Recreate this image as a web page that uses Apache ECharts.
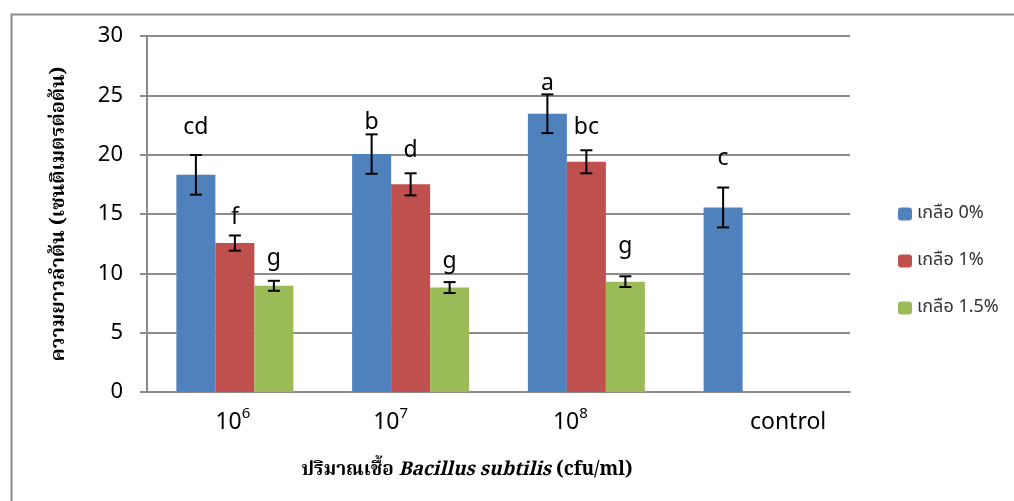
<!DOCTYPE html>
<html>
<head>
<meta charset="utf-8">
<script src="https://cdn.jsdelivr.net/npm/echarts@6/dist/echarts.min.js"></script>
<style>
  html, body { margin: 0; padding: 0; background: #fff; }
  #chart { width: 1014px; height: 501px; }
</style>
</head>
<body>
<div id="chart"></div>
<script>
// Stem length (cm per plant) by Bacillus subtilis dose and salt level
const categories = ['10^6', '10^7', '10^8', 'control'];
const seriesNames = ['เกลือ 0%', 'เกลือ 1%', 'เกลือ 1.5%'];
const salt0 = [18.3, 20.05, 23.45, 15.55];
const salt1 = [12.55, 17.5, 19.4, null];
const salt15 = [8.95, 8.8, 9.3, null];
const err0 = [1.67, 1.66, 1.63, 1.68];
const err1 = [0.64, 0.93, 0.97, null];
const err15 = [0.42, 0.46, 0.45, null];
const letters0 = ['cd', 'b', 'a', 'c'];
const letters1 = ['f', 'd', 'bc', null];
const letters15 = ['g', 'g', 'g', null];
const yTicks = [0, 5, 10, 15, 20, 25, 30];

const values = [salt0, salt1, salt15];
const errors = [err0, err1, err15];
const letters = [letters0, letters1, letters15];
const colors = ['#4F81BD', '#C0504D', '#9BBB59'];

// drawing constants
const BAR_W = 39;
const SANS = '"Noto Sans", "Open Sans", sans-serif';
const THAI_SANS = '"Noto Sans Thai", "Noto Sans Thai UI", Tahoma, Garuda, Loma, "Noto Sans", sans-serif';
const THAI_SERIF = '"Noto Serif Thai", "Times New Roman", "Liberation Serif", "DejaVu Serif", serif';
// pixel lift of each significance letter above its error bar: [series][category]
const letterLift = [[16, 0, -1, 18], [7, 11, 11, null], [11, 9, 18, null]];
// horizontal nudge of category labels in pixels
const labelShift = [-2, -20, -16, 26];

const chart = echarts.init(document.getElementById('chart'), null, { renderer: 'canvas' });

const barSeries = seriesNames.map((name, s) => ({
  name: name,
  type: 'bar',
  barWidth: BAR_W,
  barGap: '0%',
  itemStyle: { color: colors[s] },
  data: values[s],
  z: 2
}));

// error bars + letters, one custom series per salt level
const errSeries = seriesNames.map((name, s) => ({
  type: 'custom',
  name: name + '-err',
  silent: true,
  z: 5,
  data: categories.map((c, i) => [i, values[s][i], errors[s][i]]),
  renderItem: function (params, api) {
    const i = api.value(0);
    const v = values[s][i];
    const e = errors[s][i];
    if (v == null) return null;
    const cx = api.coord([i, v])[0] + (s - 1) * BAR_W;
    const yTop = api.coord([i, v + e])[1];
    const yBot = api.coord([i, v - e])[1];
    const cap = 6;
    const ls = { stroke: '#000', lineWidth: 2 };
    const children = [
      { type: 'line', shape: { x1: cx, y1: yTop, x2: cx, y2: yBot }, style: ls },
      { type: 'line', shape: { x1: cx - cap, y1: yTop, x2: cx + cap, y2: yTop }, style: ls },
      { type: 'line', shape: { x1: cx - cap, y1: yBot, x2: cx + cap, y2: yBot }, style: ls }
    ];
    const t = letters[s][i];
    if (t) {
      children.push({
        type: 'text',
        style: {
          text: t, x: cx, y: yTop - letterLift[s][i],
          align: 'center', verticalAlign: 'bottom',
          font: '23px ' + SANS, fill: '#000'
        }
      });
    }
    return { type: 'group', children: children };
  }
}));

// category labels: "10^n" becomes 10 with a raised exponent
function catLabel(value, idx) {
  if (value.indexOf('^') > 0) {
    const parts = value.split('^');
    return '{b' + idx + '|' + parts[0] + '}{s' + idx + '|' + parts[1] + '}';
  }
  return '{c' + idx + '|' + value + '}';
}
const rich = {};
labelShift.forEach((shift, idx) => {
  const padL = shift > 0 ? shift * 2 : 0;
  const padR = shift < 0 ? -shift * 2 : 0;
  rich['b' + idx] = { fontSize: 23, fontFamily: SANS, color: '#000', verticalAlign: 'bottom', padding: [0, 0, 0, padL] };
  rich['s' + idx] = { fontSize: 15, fontFamily: SANS, color: '#000', verticalAlign: 'top', padding: [0, padR, 13, 0] };
  rich['c' + idx] = { fontSize: 23, fontFamily: SANS, color: '#000', verticalAlign: 'bottom', padding: [5, padR, 0, padL] };
});

const option = {
  backgroundColor: '#fff',
  animation: false,
  grid: { left: 147, right: 164, top: 36, bottom: 109, containLabel: false },
  legend: {
    orient: 'vertical',
    left: 893,
    top: 200,
    itemWidth: 14,
    itemHeight: 13,
    itemGap: 29,
    data: seriesNames,
    textStyle: { fontFamily: THAI_SANS, fontSize: 18, color: '#333' }
  },
  xAxis: {
    type: 'category',
    data: categories,
    axisLine: { lineStyle: { color: '#8c8c8c', width: 2 } },
    axisTick: { show: false },
    axisLabel: { margin: 14, formatter: catLabel, rich: rich }
  },
  yAxis: {
    type: 'value',
    min: yTicks[0],
    max: yTicks[yTicks.length - 1],
    interval: 5,
    name: 'ความยาวลำต้น (เซนติเมตรต่อต้น)',
    nameLocation: 'middle',
    nameGap: 76,
    nameTextStyle: { fontFamily: THAI_SERIF, fontWeight: 'bold', fontSize: 20, color: '#000' },
    axisLine: { show: true, lineStyle: { color: '#8c8c8c', width: 2 } },
    axisTick: { show: true, length: 7, lineStyle: { color: '#8c8c8c', width: 2 } },
    axisLabel: { margin: 24, fontFamily: SANS, fontSize: 22, color: '#000' },
    splitLine: { lineStyle: { color: '#8c8c8c', width: 2 } }
  },
  graphic: [
    {
      type: 'rect', left: 9, top: 12, silent: true,
      shape: { width: 1020, height: 510 },
      style: { fill: null, stroke: '#8a8a8a', lineWidth: 2 }
    },
    {
      type: 'text', x: 467, y: 472, silent: true,
      style: {
        text: '{t|ปริมาณเชื้อ }{i|Bacillus subtilis}{t| (cfu/ml)}',
        align: 'center', verticalAlign: 'middle',
        rich: {
          t: { fontFamily: THAI_SERIF, fontWeight: 'bold', fontSize: 19, fill: '#000' },
          i: { fontFamily: THAI_SERIF, fontWeight: 'bold', fontStyle: 'italic', fontSize: 19, fill: '#000' }
        }
      }
    }
  ],
  series: barSeries.concat(errSeries)
};

chart.setOption(option);
</script>
</body>
</html>
